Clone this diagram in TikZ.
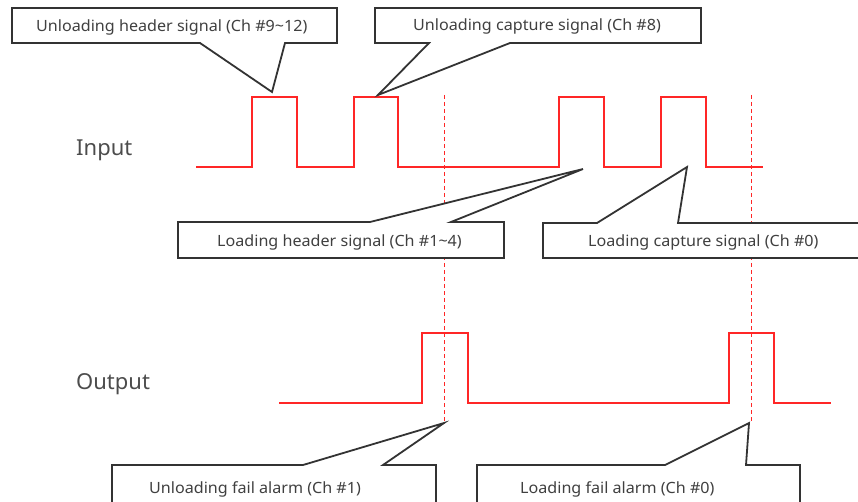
\documentclass[tikz,border=0pt]{standalone}
\usepackage{fontspec}
\setmainfont{Noto Sans}
\begin{document}
\begin{tikzpicture}[x=1pt,y=-1pt,
  signal/.style={draw=red!85!white, line width=1.4pt, line join=miter},
  marker/.style={draw=red!85!white, line width=1pt, dash pattern=on 4pt off 3pt},
  callout/.style={draw=black!80, line width=1.8pt, fill=white, line join=miter},
  calltext/.style={font=\fontsize{15.5}{18}\selectfont, text=black!75, inner sep=0pt, anchor=west, xscale=1.04},
  rowlabel/.style={font=\fontsize{22}{26}\selectfont, text=black!70, inner sep=0pt, anchor=west}]
\useasboundingbox (0,0) rectangle (858,502);
\clip (0,0) rectangle (858,502);

% row labels
\node[rowlabel] (inlbl) at (76,150) {Input};
\node[rowlabel] (outlbl) at (76,384) {Output};

% time markers
\draw[marker] (444,95) -- (444,422);
\draw[marker] (751,95) -- (751,422);

% input waveform
\draw[signal] (196,167) -- (252,167) -- (252,97) -- (297,97) -- (297,167)
  -- (354,167) -- (354,97) -- (398,97) -- (398,167)
  -- (559,167) -- (559,97) -- (604,97) -- (604,167)
  -- (661,167) -- (661,97) -- (706,97) -- (706,167) -- (763,167);

% output waveform
\draw[signal] (279,403) -- (422,403) -- (422,333) -- (468,333) -- (468,403)
  -- (729,403) -- (729,333) -- (774,333) -- (774,403) -- (831,403);

% callouts
\draw[callout] (12,8) -- (337,8) -- (337,43) -- (285,43) -- (272,92) -- (200,43) -- (12,43) -- cycle;
\node[calltext] (uhs) at (36,27) {Unloading header signal (Ch \#9\textasciitilde12)};

\draw[callout] (375,8) -- (701,8) -- (701,43) -- (510,43) -- (378,95) -- (429,43) -- (375,43) -- cycle;
\node[calltext] (ucs) at (413,26) {Unloading capture signal (Ch \#8)};

\draw[callout] (178,222) -- (370,222) -- (583,169) -- (451,222) -- (504,222) -- (504,258) -- (178,258) -- cycle;
\node[calltext] (lhs) at (217,242) {Loading header signal (Ch \#1\textasciitilde4)};

\draw[callout] (543,223) -- (597,223) -- (687,167) -- (678,223) -- (864,223) -- (864,258) -- (543,258) -- cycle;
\node[calltext] (lcs) at (588,242) {Loading capture signal (Ch \#0)};

\draw[callout] (112,506) -- (112,465) -- (303,465) -- (444,423) -- (383,465) -- (436,465) -- (436,506);
\node[calltext] (ufa) at (149,489) {Unloading fail alarm (Ch \#1)};

\draw[callout] (477,506) -- (477,465) -- (665,465) -- (749,423) -- (746,465) -- (800,465) -- (800,506);
\node[calltext] (lfa) at (520,489) {Loading fail alarm (Ch \#0)};
\end{tikzpicture}
\end{document}
